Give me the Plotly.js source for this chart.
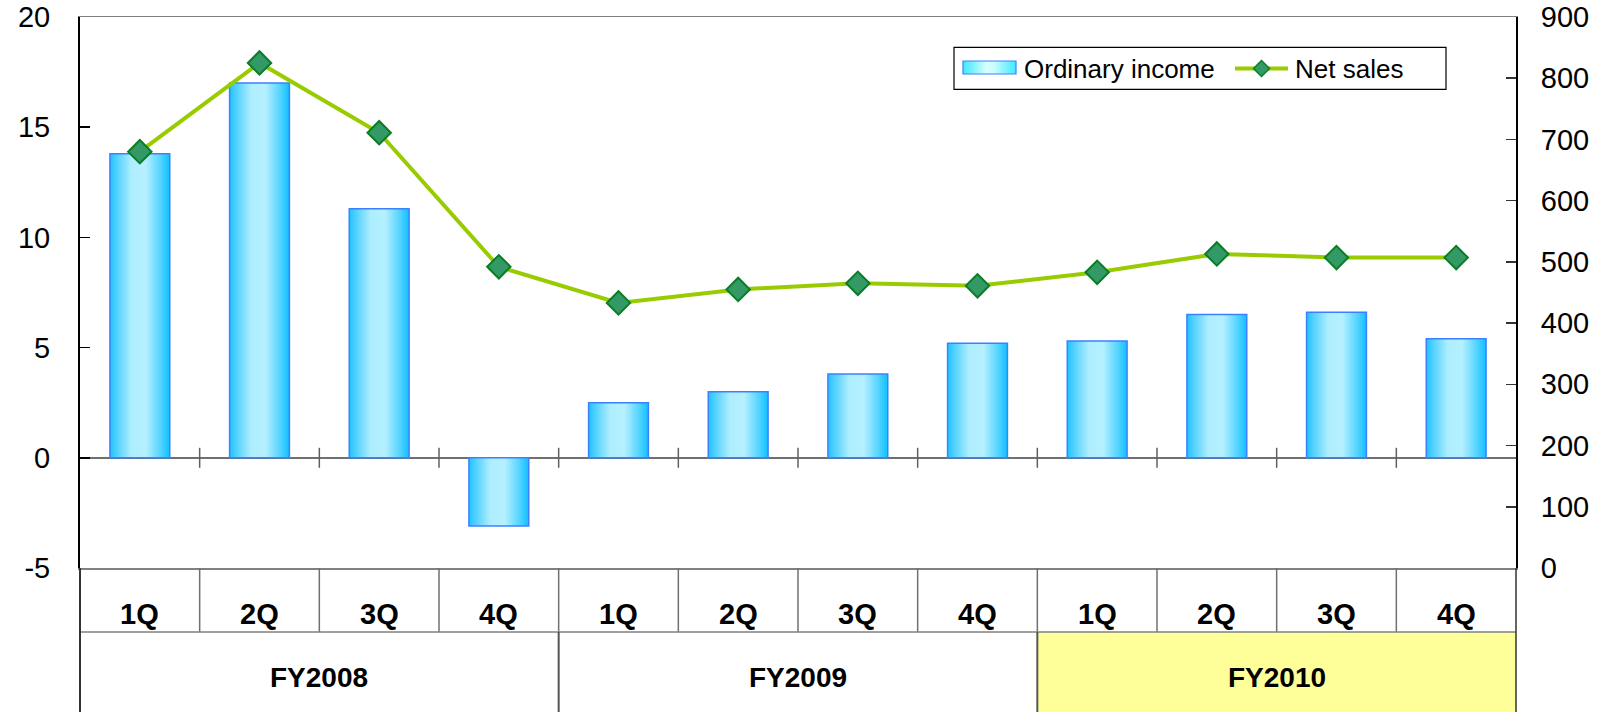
<!DOCTYPE html>
<html><head><meta charset="utf-8">
<script src="https://cdn.plot.ly/plotly-3.0.1.min.js"></script>
<style>html,body{margin:0;padding:0;background:#fff;} #chart{width:1607px;height:712px;}</style>
</head><body>
<svg width="0" height="0" style="position:absolute">
<defs>
<linearGradient id="barGrad" x1="0" y1="0" x2="1" y2="0">
 <stop offset="0" stop-color="#1ec4ff"/>
 <stop offset="0.1" stop-color="#4ccfff"/>
 <stop offset="0.36" stop-color="#aeeeff"/>
 <stop offset="0.6" stop-color="#b5f0ff"/>
 <stop offset="0.86" stop-color="#4ed2ff"/>
 <stop offset="1" stop-color="#0fc0ff"/>
</linearGradient>
<linearGradient id="legGrad" x1="0" y1="0" x2="1" y2="0">
 <stop offset="0" stop-color="#3ee8ff"/>
 <stop offset="0.45" stop-color="#d6ffff"/>
 <stop offset="0.6" stop-color="#c8fbff"/>
 <stop offset="1" stop-color="#3eeaff"/>
</linearGradient>
</defs></svg>
<div id="chart"></div>
<script>
const fiscalYears = ['FY2008', 'FY2009', 'FY2010'];
const quarterNames = ['1Q', '2Q', '3Q', '4Q'];
const ordinaryIncome = [13.8, 17.0, 11.3, -3.1, 2.5, 3.0, 3.8, 5.2, 5.3, 6.5, 6.6, 5.4];
const netSales = [680, 825, 711, 492, 433, 455, 465, 461, 483, 513, 507, 507];
const legendLabels = ['Ordinary income', 'Net sales'];
const leftTickVals = [-5, 0, 5, 10, 15, 20];
const leftTickText = ['-5', '0', '5', '10', '15', '20'];
const rightTickVals = [0, 100, 200, 300, 400, 500, 600, 700, 800, 900];
const rightTickText = ['0', '100', '200', '300', '400', '500', '600', '700', '800', '900'];

const categories = [];
const catQuarter = [];
fiscalYears.forEach(fy => quarterNames.forEach(q => { categories.push(fy + ' ' + q); catQuarter.push(q); }));

const FONT = 'Liberation Sans, Arial, sans-serif';
const W = 1607, H = 712, ML = 80, MR = 91, MT = 17, MB = 144;
const PW = W - ML - MR, PH = H - MT - MB;
const px2x = p => (p - ML) / PW;
const py2y = p => (H - MB - p) / PH;

const nCat = categories.length;
const row1Bottom = py2y(632);
const tableBottom = -0.35;

const shapes = [];
// yellow cell for last fiscal year
shapes.push({type: 'rect', xref: 'paper', yref: 'paper', x0: 8 / nCat, x1: 1, y0: row1Bottom, y1: tableBottom,
  fillcolor: '#ffff99', line: {width: 0}, layer: 'below'});
// crossing ticks on zero line & quarter separators
for (let i = 1; i < nCat; i++) {
  shapes.push({type: 'line', xref: 'paper', yref: 'paper', x0: i / nCat, x1: i / nCat,
    y0: 0.2 - 10 / PH, y1: 0.2 + 10 / PH, line: {color: '#606060', width: 1.5}});
  shapes.push({type: 'line', xref: 'paper', yref: 'paper', x0: i / nCat, x1: i / nCat,
    y0: 0, y1: row1Bottom, line: {color: '#707070', width: 1.5}});
}
// row divider
shapes.push({type: 'line', xref: 'paper', yref: 'paper', x0: 0, x1: 1, y0: row1Bottom, y1: row1Bottom,
  line: {color: '#808080', width: 1.5}});
// fiscal year separators
for (let g = 1; g < fiscalYears.length; g++) {
  const xx = g * quarterNames.length / nCat;
  shapes.push({type: 'line', xref: 'paper', yref: 'paper', x0: xx, x1: xx, y0: row1Bottom, y1: tableBottom,
    line: {color: '#555555', width: 2}});
}
// outer table edges
shapes.push({type: 'line', xref: 'paper', yref: 'paper', x0: 0, x1: 0, y0: 0, y1: tableBottom, line: {color: '#333333', width: 2}});
shapes.push({type: 'line', xref: 'paper', yref: 'paper', x0: 1, x1: 1, y0: 0, y1: tableBottom, line: {color: '#333333', width: 1.5}});

// custom legend
shapes.push({type: 'rect', xref: 'paper', yref: 'paper', x0: px2x(954), x1: px2x(1446), y0: py2y(89.3), y1: py2y(47.3),
  fillcolor: '#ffffff', line: {color: '#000000', width: 1.2}});
const legSwatchIndex = shapes.length;
shapes.push({type: 'rect', xref: 'paper', yref: 'paper', x0: px2x(963), x1: px2x(1016), y0: py2y(74), y1: py2y(61),
  fillcolor: '#8ef4ff', line: {color: '#3d80ff', width: 1.2}});
shapes.push({type: 'line', xref: 'paper', yref: 'paper', x0: px2x(1235), x1: px2x(1288), y0: py2y(68.5), y1: py2y(68.5),
  line: {color: '#99cc00', width: 4}});
(function () {
  const cx = px2x(1261.5), cy = py2y(68.5), dx = 8 / PW, dy = 8 / PH;
  shapes.push({type: 'path', xref: 'paper', yref: 'paper',
    path: `M ${cx - dx},${cy} L ${cx},${cy + dy} L ${cx + dx},${cy} L ${cx},${cy - dy} Z`,
    fillcolor: '#339966', line: {color: '#0b7d24', width: 1.5}});
})();

const annotations = [];
categories.forEach((c, i) => annotations.push({xref: 'x', yref: 'paper', x: c, y: py2y(613.5), xanchor: 'center', yanchor: 'middle',
  text: '<b>' + catQuarter[i] + '</b>', showarrow: false, font: {family: FONT, size: 29, color: '#000'}}));
fiscalYears.forEach((fy, g) => annotations.push({xref: 'paper', yref: 'paper',
  x: (g * quarterNames.length + quarterNames.length / 2) / nCat, y: py2y(677), xanchor: 'center', yanchor: 'middle',
  text: '<b>' + fy + '</b>', showarrow: false, font: {family: FONT, size: 28, color: '#000'}}));
annotations.push({xref: 'paper', yref: 'paper', x: px2x(1022), y: py2y(68.5), xanchor: 'left', yanchor: 'middle',
  text: legendLabels[0], showarrow: false, font: {family: FONT, size: 26, color: '#000'}});
annotations.push({xref: 'paper', yref: 'paper', x: px2x(1293), y: py2y(68.5), xanchor: 'left', yanchor: 'middle',
  text: legendLabels[1], showarrow: false, font: {family: FONT, size: 26, color: '#000'}});

const traces = [
  {type: 'bar', x: categories, y: ordinaryIncome, yaxis: 'y', width: 0.5, name: legendLabels[0],
   marker: {color: '#8ee6ff', line: {color: '#3d80ff', width: 1.5}}, showlegend: false, hoverinfo: 'skip'},
  {type: 'scatter', mode: 'lines+markers', x: categories, y: netSales, yaxis: 'y2', name: legendLabels[1],
   line: {color: '#99cc00', width: 4},
   marker: {symbol: 'diamond', size: 18, color: '#339966', line: {color: '#0b7d24', width: 2}},
   showlegend: false, hoverinfo: 'skip'}
];

const layout = {
  width: W, height: H, margin: {l: ML, r: MR, t: MT, b: MB},
  paper_bgcolor: '#fff', plot_bgcolor: '#fff', showlegend: false,
  font: {family: FONT, color: '#000'},
  xaxis: {type: 'category', range: [-0.5, nCat - 0.5], showline: true, mirror: true, linecolor: '#808080', linewidth: 1.5,
    ticks: '', showticklabels: false, showgrid: false, zeroline: false, fixedrange: true},
  yaxis: {range: [-5, 20], tickmode: 'array', tickvals: leftTickVals, ticktext: leftTickText,
    ticks: 'inside', ticklen: 10, tickwidth: 1.5, tickcolor: '#000',
    showline: true, linecolor: '#000', linewidth: 2, showgrid: false,
    zeroline: true, zerolinecolor: '#707070', zerolinewidth: 1.5,
    tickfont: {family: FONT, size: 29, color: '#000'}, ticklabelstandoff: 22, fixedrange: true},
  yaxis2: {range: [0, 900], tickmode: 'array', tickvals: rightTickVals, ticktext: rightTickText,
    overlaying: 'y', side: 'right', ticks: 'inside', ticklen: 10,
    tickwidth: 1.5, tickcolor: '#333', showline: true, linecolor: '#000', linewidth: 2, showgrid: false, zeroline: false,
    tickfont: {family: FONT, size: 29, color: '#000'}, ticklabelstandoff: 17, fixedrange: true},
  barmode: 'overlay',
  shapes: shapes, annotations: annotations
};

Plotly.newPlot('chart', traces, layout, {displayModeBar: false, staticPlot: true}).then(() => {
  document.querySelectorAll('.bars .point path').forEach(p => p.style.setProperty('fill', 'url(#barGrad)'));
  document.querySelectorAll('.shapelayer path[data-index="' + legSwatchIndex + '"]').forEach(p => p.style.setProperty('fill', 'url(#legGrad)'));
});
</script>
</body></html>
